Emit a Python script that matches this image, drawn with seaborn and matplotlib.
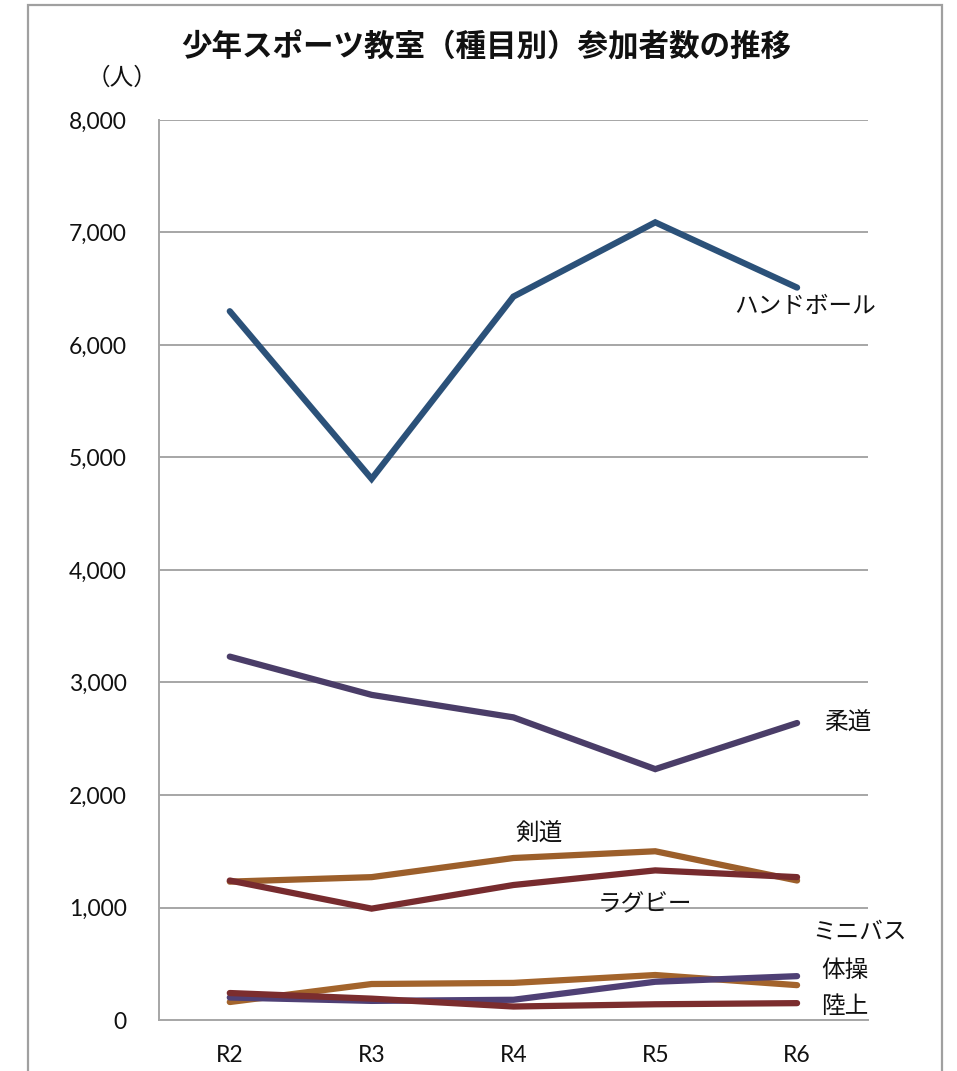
import matplotlib
matplotlib.use("Agg")
import matplotlib.pyplot as plt
import seaborn as sns
import pandas as pd
from matplotlib.patches import Rectangle
from matplotlib.ticker import FuncFormatter

sns.set_theme(style="white")
plt.rcParams["font.family"] = ["Lato", "Noto Sans CJK JP", "DejaVu Sans"]

years = ["R2", "R3", "R4", "R5", "R6"]
handball = [6300, 4810, 6430, 7090, 6510]
judo = [3230, 2890, 2690, 2230, 2640]
kendo = [1230, 1270, 1440, 1500, 1240]
rugby = [1240, 990, 1200, 1330, 1270]
minibasket = [160, 320, 330, 400, 310]
gymnastics = [200, 170, 180, 340, 390]
athletics = [240, 190, 120, 140, 150]

series_names = ["ハンドボール", "柔道", "剣道", "ラグビー", "ミニバス", "体操", "陸上"]
series_values = [handball, judo, kendo, rugby, minibasket, gymnastics, athletics]
palette = {
    "ハンドボール": "#2B5179",
    "柔道": "#4A3D68",
    "剣道": "#9C5F2B",
    "ラグビー": "#772B2E",
    "ミニバス": "#A3642C",
    "体操": "#4F4075",
    "陸上": "#7B2D2E",
}

df = pd.DataFrame(
    [(n, y, v) for n, vals in zip(series_names, series_values) for y, v in zip(years, vals)],
    columns=["種目", "年度", "人数"],
)
df["pos"] = df["年度"].map({y: i for i, y in enumerate(years)})

fig = plt.figure(figsize=(9.57, 10.71), dpi=100)
ax = fig.add_axes([0.166, 0.0476, 0.741, 0.8404])

# horizontal gridlines drawn beneath the series
ax.set_ylim(0, 8000)
ax.set_xlim(-0.5, 4.5)
ax.set_yticks(range(0, 8001, 1000))
for v in range(1000, 8001, 1000):
    ax.axhline(v, color="#A6A6A6", lw=1.4, zorder=0)

sns.lineplot(
    data=df, x="pos", y="人数", hue="種目", palette=palette,
    hue_order=series_names, linewidth=4.5, legend=False, ax=ax,
    sort=False, estimator=None,
)
for line in ax.get_lines():
    line.set_solid_capstyle("round")
    line.set_solid_joinstyle("miter")

ax.set_xticks(range(len(years)))
ax.set_xticklabels(years)
ax.yaxis.set_major_formatter(FuncFormatter(lambda v, p: f"{int(v):,}"))
ax.tick_params(axis="y", length=0, pad=23, labelsize=16.5, colors="#111111")
ax.tick_params(axis="x", length=0, pad=18, labelsize=16.5, colors="#111111")
ax.set_xlabel("")
ax.set_ylabel("")

for side in ["top", "right"]:
    ax.spines[side].set_visible(False)
for side in ["left", "bottom"]:
    ax.spines[side].set_color("#A6A6A6")
    ax.spines[side].set_linewidth(1.4)

jp = ["Noto Sans CJK JP", "DejaVu Sans"]
label_pos = {
    "ハンドボール": (3.56, 6340, "left"),
    "柔道": (4.19, 2650, "left"),
    "剣道": (2.18, 1660, "center"),
    "ラグビー": (2.93, 1020, "center"),
    "ミニバス": (4.11, 780, "left"),
    "体操": (4.17, 440, "left"),
    "陸上": (4.17, 120, "left"),
}
for name, (x, y, ha) in label_pos.items():
    ax.text(x, y, name, ha=ha, va="center", fontsize=17, family=jp,
            color="#111111", clip_on=False)

fig.text(0.508, 0.956, "少年スポーツ教室（種目別）参加者数の推移", ha="center",
         va="center", fontsize=22, fontweight="bold", family=jp, color="#111111")
fig.text(0.128, 0.927, "（人）", ha="center", va="center", fontsize=17,
         family=jp, color="#111111")

fig.add_artist(Rectangle((28 / 957, -0.02), (942 - 28) / 957, (1071 - 5) / 1071 + 0.02,
                         transform=fig.transFigure, fill=False,
                         edgecolor="#A0A0A0", linewidth=1.6))

fig.savefig("out.png", dpi=100, facecolor="white")
